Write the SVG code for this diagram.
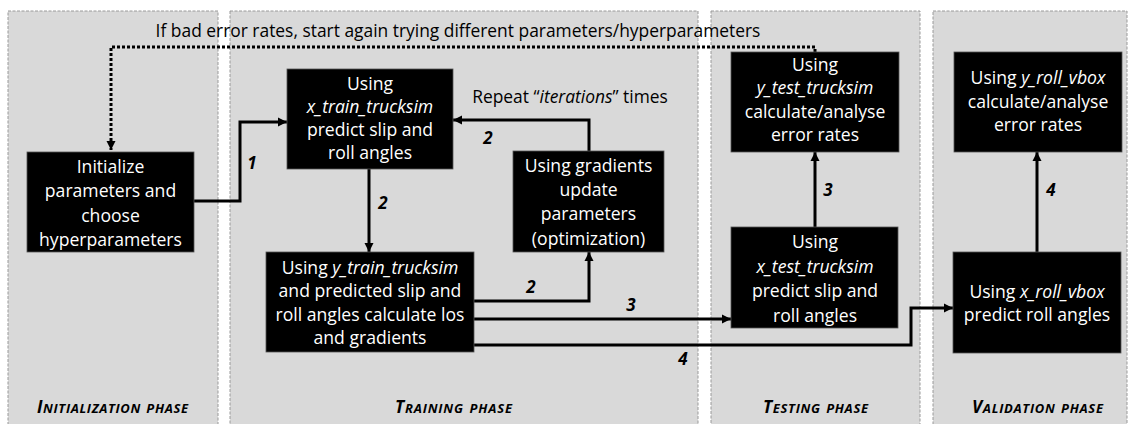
<svg xmlns="http://www.w3.org/2000/svg" width="1134" height="424" viewBox="0 0 1134 424">
<defs>
<style>
.panel{fill:#d9d9d9;stroke:#9a9a9a;stroke-width:1;stroke-dasharray:3 1.5}
.box{fill:#000;stroke:#555;stroke-width:0.8}
.bt{font-family:"Open Sans","Liberation Sans",sans-serif;font-size:17.6px;fill:#fff;text-anchor:middle}
.lt{font-family:"Open Sans","Liberation Sans",sans-serif;font-size:17.4px;fill:#000}
.num{font-family:"Open Sans","Liberation Sans",sans-serif;font-size:17px;font-weight:bold;font-style:italic;fill:#000;text-anchor:middle}
.ph{font-family:"Open Sans","Liberation Sans",sans-serif;font-size:18.6px;font-weight:bold;font-style:italic;font-variant:small-caps;fill:#000}
.cap{font-size:17.2px}
.i{font-style:italic}
.c{fill:none;stroke:#000;stroke-width:3}
.d{fill:none;stroke:#000;stroke-width:3;stroke-dasharray:3 2}
</style>
<marker id="ah" markerUnits="userSpaceOnUse" markerWidth="10" markerHeight="10" refX="9" refY="5" orient="auto">
<path d="M0,0.5 L9,5 L0,9.5 z" fill="#000"/>
</marker>
</defs>
<g id="panels">
<rect class="panel" x="8" y="11" width="210" height="420"/>
<rect class="panel" x="230" y="11" width="468" height="420"/>
<rect class="panel" x="711" y="11" width="209" height="420"/>
<rect class="panel" x="933" y="11" width="194" height="420"/>
<text class="ph" x="37" y="413" textLength="151" lengthAdjust="spacing"><tspan class="cap">I</tspan>nitialization phase</text>
<text class="ph" x="395" y="413" textLength="117" lengthAdjust="spacing"><tspan class="cap">T</tspan>raining phase</text>
<text class="ph" x="763" y="413" textLength="105" lengthAdjust="spacing"><tspan class="cap">T</tspan>esting phase</text>
<text class="ph" x="972" y="413" textLength="131" lengthAdjust="spacing"><tspan class="cap">V</tspan>alidation phase</text>
</g>
<g id="connectors">
<polyline class="d" points="815,52 815,47 111,47 111,150" marker-end="url(#ah)"/>
<text class="lt" x="458" y="37" text-anchor="middle">If bad error rates, start again trying different parameters/hyperparameters</text>
<polyline class="c" points="194,201 240,201 240,122 287,122" marker-end="url(#ah)"/>
<text class="num" x="252" y="169">1</text>
<line class="c" x1="369" y1="169" x2="369" y2="252" marker-end="url(#ah)"/>
<text class="num" x="383" y="209">2</text>
<polyline class="c" points="589,151 589,120 453,120" marker-end="url(#ah)"/>
<text class="lt" x="570" y="103" text-anchor="middle">Repeat “<tspan class="i">iterations</tspan>” times</text>
<text class="num" x="488" y="144">2</text>
<polyline class="c" points="474,301 589,301 589,252" marker-end="url(#ah)"/>
<text class="num" x="531" y="293">2</text>
<line class="c" x1="474" y1="319" x2="731" y2="319" marker-end="url(#ah)"/>
<text class="num" x="631" y="311">3</text>
<line class="c" x1="815" y1="227" x2="815" y2="152" marker-end="url(#ah)"/>
<text class="num" x="828" y="196">3</text>
<polyline class="c" points="474,345 911,345 911,308 953,308" marker-end="url(#ah)"/>
<text class="num" x="683" y="365">4</text>
<line class="c" x1="1037" y1="252" x2="1037" y2="152" marker-end="url(#ah)"/>
<text class="num" x="1051" y="196">4</text>
</g>
<g id="init">
<rect class="box" x="27" y="152" width="167" height="100"/>
<text class="bt" x="110.5" y="173">Initialize</text>
<text class="bt" x="110.5" y="197">parameters and</text>
<text class="bt" x="110.5" y="222">choose</text>
<text class="bt" x="110.5" y="246">hyperparameters</text>
</g>
<g id="train-predict">
<rect class="box" x="287" y="69" width="166" height="100"/>
<text class="bt" x="370" y="90">Using</text>
<text class="bt" x="370" y="113"><tspan class="i">x_train_trucksim</tspan></text>
<text class="bt" x="370" y="136">predict slip and</text>
<text class="bt" x="370" y="159">roll angles</text>
</g>
<g id="train-loss">
<rect class="box" x="266" y="252" width="208" height="100"/>
<text class="bt" x="370" y="274">Using <tspan class="i">y_train_trucksim</tspan></text>
<text class="bt" x="370" y="297">and predicted slip and</text>
<text class="bt" x="370" y="321">roll angles calculate los</text>
<text class="bt" x="370" y="344">and gradients</text>
</g>
<g id="optimize">
<rect class="box" x="513" y="151" width="151" height="101"/>
<text class="bt" x="588.5" y="172">Using gradients</text>
<text class="bt" x="588.5" y="196">update</text>
<text class="bt" x="588.5" y="220">parameters</text>
<text class="bt" x="588.5" y="245">(optimization)</text>
</g>
<g id="test-analyse">
<rect class="box" x="731" y="52" width="168" height="100"/>
<text class="bt" x="815" y="71">Using</text>
<text class="bt" x="815" y="94"><tspan class="i">y_test_trucksim</tspan></text>
<text class="bt" x="815" y="118">calculate/analyse</text>
<text class="bt" x="815" y="141">error rates</text>
</g>
<g id="test-predict">
<rect class="box" x="731" y="227" width="167" height="101"/>
<text class="bt" x="815" y="248">Using</text>
<text class="bt" x="815" y="273"><tspan class="i">x_test_trucksim</tspan></text>
<text class="bt" x="815" y="297">predict slip and</text>
<text class="bt" x="815" y="322">roll angles</text>
</g>
<g id="val-analyse">
<rect class="box" x="954" y="52" width="168" height="100"/>
<text class="bt" x="1038" y="84">Using <tspan class="i">y_roll_vbox</tspan></text>
<text class="bt" x="1038" y="108">calculate/analyse</text>
<text class="bt" x="1038" y="131">error rates</text>
</g>
<g id="val-predict">
<rect class="box" x="953" y="252" width="168" height="101"/>
<text class="bt" x="1037" y="298">Using <tspan class="i">x_roll_vbox</tspan></text>
<text class="bt" x="1037" y="321">predict roll angles</text>
</g>
</svg>
